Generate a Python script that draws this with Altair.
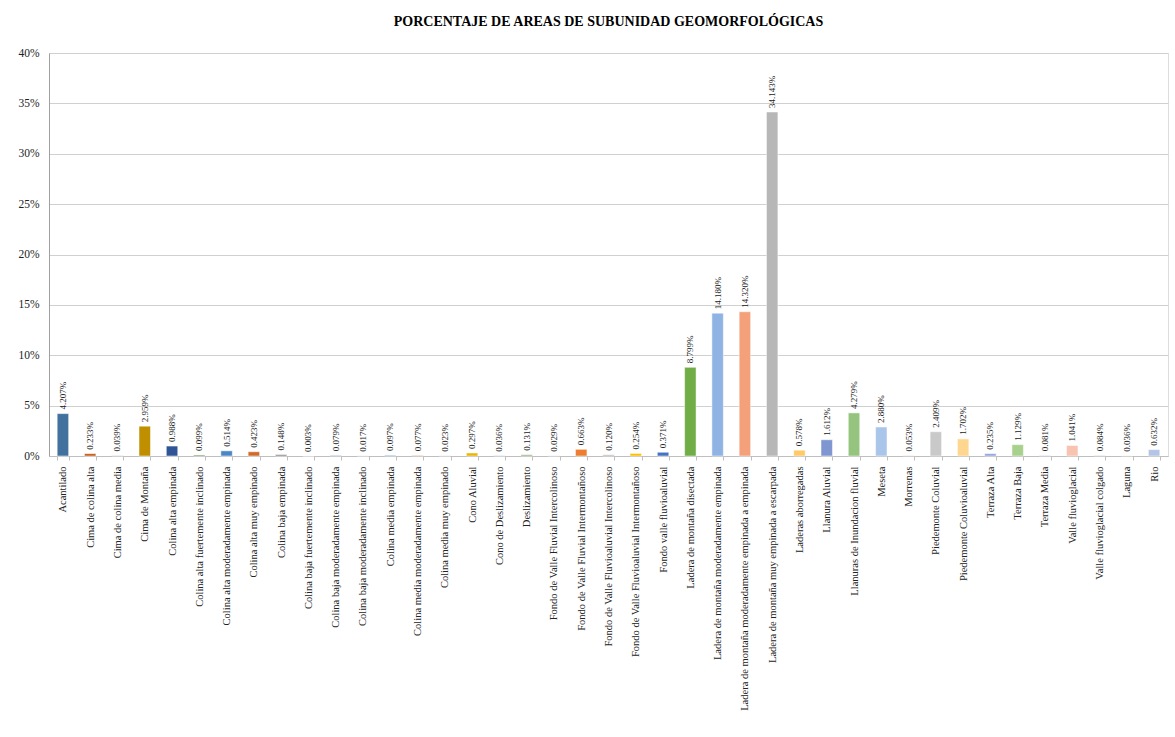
import altair as alt
import pandas as pd

categorias = [
    "Acantilado", "Cima de colina alta", "Cima de colina media", "Cima de Montaña",
    "Colina alta empinada", "Colina alta fuertemente inclinado",
    "Colina alta moderadamente empinada", "Colina alta muy empinado",
    "Colina baja empinada", "Colina baja fuertemente inclinado",
    "Colina baja moderadamente empinada", "Colina baja moderadamente inclinado",
    "Colina media empinada", "Colina media moderadamente empinada",
    "Colina media muy empinado", "Cono Aluvial", "Cono de Deslizamiento",
    "Deslizamiento", "Fondo de Valle Fluvial Intercolinoso",
    "Fondo de Valle Fluvial Intermontañoso",
    "Fondo de Valle Fluvioaluvial Intercolinoso",
    "Fondo de Valle Fluvioaluvial Intermontañoso", "Fondo valle fluvioaluvial",
    "Ladera de montaña disectada", "Ladera de montaña moderadamente empinada",
    "Ladera de montaña moderadamente empinada a empinada",
    "Ladera de montaña muy empinada a escarpada", "Laderas aborregadas",
    "Llanura Aluvial", "Llanuras de Inundacion fluvial", "Meseta", "Morrenas",
    "Piedemonte Coluvial", "Piedemonte Coluvioaluvial", "Terraza Alta",
    "Terraza Baja", "Terraza Media", "Valle fluvioglacial",
    "Valle fluvioglacial colgado", "Laguna", "Rio",
]

porcentajes = [
    4.207, 0.233, 0.039, 2.959, 0.988, 0.099, 0.514, 0.423, 0.148, 0.003,
    0.079, 0.017, 0.097, 0.077, 0.023, 0.297, 0.036, 0.131, 0.029, 0.663,
    0.120, 0.254, 0.371, 8.799, 14.180, 14.320, 34.143, 0.578, 1.612, 4.279,
    2.880, 0.053, 2.409, 1.702, 0.235, 1.129, 0.081, 1.041, 0.084, 0.036,
    0.632,
]

colores = [
    "#41719C", "#C55A11", "#A5A5A5", "#BF8F00", "#2F5597", "#6E9A4E",
    "#4A86C5", "#D0692A", "#8C8C8C", "#E8C56A", "#9DB3E0", "#A9C98E",
    "#9DC3E6", "#F4B183", "#BFBFBF", "#EDB400", "#8EA9DB", "#92B279",
    "#BDD7EE", "#ED7D31", "#B4B4B4", "#FFC000", "#4472C4", "#70AD47",
    "#8FB4E3", "#F4A07A", "#B7B7B7", "#FFC966", "#7F96D1", "#94C47D",
    "#A9C6EA", "#F7C5B0", "#C9C9C9", "#FFD690", "#8EA5DD", "#A9D18E",
    "#D6DCF0", "#F8C3B0", "#DDDDDD", "#FFE9B0", "#B4C4E7",
]

df = pd.DataFrame({"cat": categorias, "pct": porcentajes})
df["etiqueta"] = [f"{v:.3f}%" for v in porcentajes]

serif = "Liberation Serif"

x = alt.X(
    "cat:N", sort=categorias, title=None,
    scale=alt.Scale(paddingInner=0.58, paddingOuter=0.3),
    axis=alt.Axis(labelAngle=-90, labelFont=serif, labelFontSize=10.5,
                  labelColor="#222222", labelLimit=400, labelPadding=6,
                  tickBand="extent", tickSize=4, tickColor="#BFBFBF",
                  domainColor="#BFBFBF"),
)
y = alt.Y(
    "pct:Q", title=None,
    scale=alt.Scale(domain=[0, 40], nice=False),
    axis=alt.Axis(values=[0, 5, 10, 15, 20, 25, 30, 35, 40],
                  labelExpr="datum.value + '%'", labelFont=serif,
                  labelFontSize=11.5, labelColor="#222222", ticks=False,
                  gridColor="#D0D0D0", domainColor="#A0A0A0", labelPadding=10),
)

bars = alt.Chart(df).mark_bar(stroke="white", strokeWidth=0.5).encode(
    x=x, y=y,
    color=alt.Color("cat:N", scale=alt.Scale(domain=categorias, range=colores),
                    legend=None),
)

text = alt.Chart(df).mark_text(
    angle=270, align="left", baseline="middle", dx=4, font=serif,
    fontSize=9, color="#222222",
).encode(x=alt.X("cat:N", sort=categorias), y="pct:Q", text="etiqueta:N")

chart = (bars + text).properties(
    width=1119, height=403,
    title=alt.TitleParams(
        "PORCENTAJE DE AREAS DE SUBUNIDAD GEOMORFOLÓGICAS",
        font=serif, fontSize=14, fontWeight="bold", color="#000000",
        anchor="middle", offset=18,
    ),
    autosize=alt.AutoSizeParams(type="none"),
    padding={"left": 49, "top": 53, "right": 7, "bottom": 281},
).configure_view(stroke=None).configure(background="white")

chart.save("out.html", embed_options={"renderer": "svg", "actions": False})
